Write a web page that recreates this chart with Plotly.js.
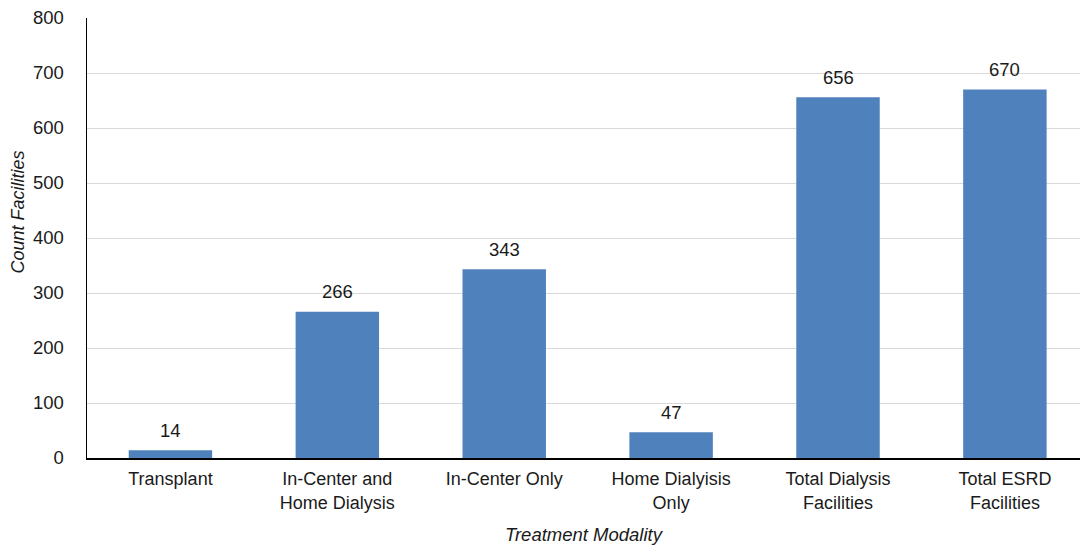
<!DOCTYPE html>
<html>
<head>
<meta charset="utf-8">
<script src="https://cdn.plot.ly/plotly-3.0.1.min.js"></script>
<style>
  html, body { margin: 0; padding: 0; background: #fff; }
  #chart { width: 1080px; height: 546px; }
</style>
</head>
<body>
<div id="chart"></div>
<script>
// Facilities by treatment modality
const categories = [
  "Transplant",
  "In-Center and<br>Home Dialysis",
  "In-Center Only",
  "Home Dialyisis<br>Only",
  "Total Dialysis<br>Facilities",
  "Total ESRD<br>Facilities"
];
const facilityCounts = [14, 266, 343, 47, 656, 670];
const yTickValues = [0, 100, 200, 300, 400, 500, 600, 700, 800];

const fontFamily = "Liberation Sans, Arial, sans-serif";
const textColor = "#1a1a1a";

const trace = {
  type: "bar",
  x: categories,
  y: facilityCounts,
  marker: { color: "#4F81BD" },
  hoverinfo: "x+y"
};

// Value labels sit just above each bar
const valueLabels = categories.map((c, i) => ({
  x: c,
  y: facilityCounts[i],
  xref: "x",
  yref: "y",
  text: String(facilityCounts[i]),
  showarrow: false,
  yanchor: "middle",
  yshift: 20,
  font: { family: fontFamily, size: 18.5, color: textColor }
}));

// Vertical axis caption, placed a little above the plot's middle
const yCaption = {
  xref: "paper",
  yref: "paper",
  x: -0.0695,
  y: 0.56,
  xanchor: "center",
  yanchor: "middle",
  textangle: -90,
  showarrow: false,
  text: "<i>Count Facilities</i>",
  font: { family: fontFamily, size: 18, color: textColor }
};

const layout = {
  width: 1080,
  height: 546,
  margin: { l: 87, r: 0, t: 18, b: 88 },
  paper_bgcolor: "#ffffff",
  plot_bgcolor: "#ffffff",
  bargap: 0.5,
  showlegend: false,
  font: { family: fontFamily, color: textColor },
  annotations: valueLabels.concat([yCaption]),
  xaxis: {
    range: [-0.5, 5.45],
    showgrid: false,
    showline: true,
    linecolor: "#000000",
    linewidth: 1.5,
    ticks: "",
    ticklabelstandoff: 4,
    tickfont: { family: fontFamily, size: 18, color: textColor },
    title: {
      text: "<i>Treatment Modality</i>",
      font: { family: fontFamily, size: 18.5, color: textColor },
      standoff: 16
    }
  },
  yaxis: {
    range: [0, 800],
    tickvals: yTickValues,
    showgrid: true,
    gridcolor: "#d9d9d9",
    gridwidth: 1,
    showline: true,
    linecolor: "#000000",
    linewidth: 1.5,
    zeroline: false,
    ticks: "",
    ticklabelstandoff: 18,
    tickfont: { family: fontFamily, size: 18.5, color: textColor }
  }
};

Plotly.newPlot("chart", [trace], layout, { staticPlot: true, displayModeBar: false });
</script>
</body>
</html>
